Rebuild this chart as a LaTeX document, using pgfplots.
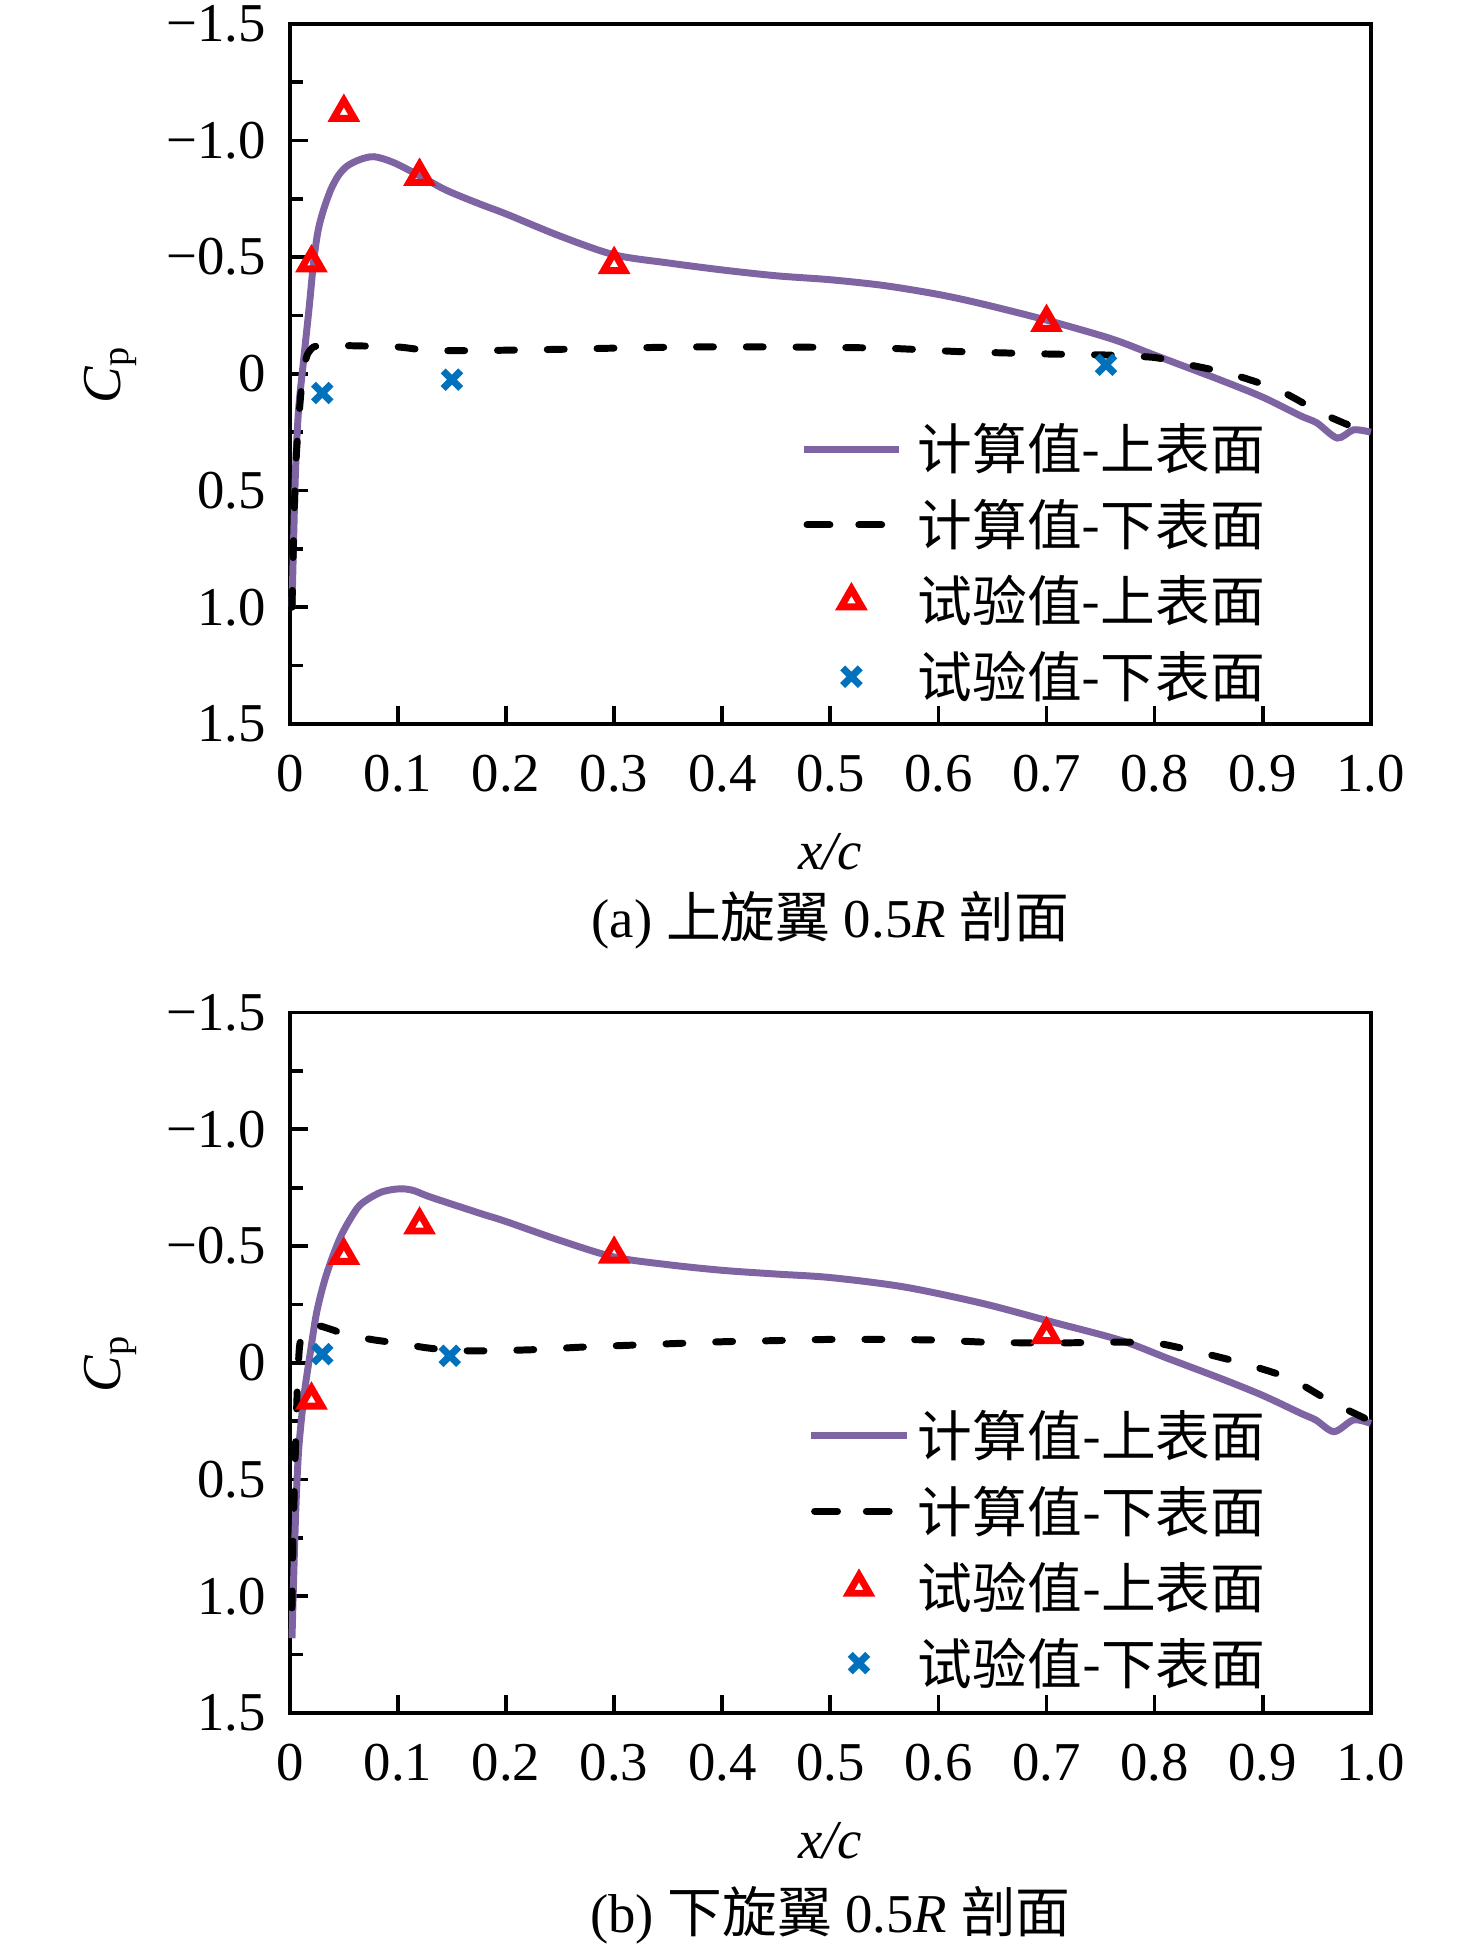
\documentclass[border=0pt]{standalone}
\usepackage{fontspec}
\setmainfont{Liberation Serif}
\newfontfamily\cjk{Noto Sans CJK SC}
\usepackage{pgfplots}
\pgfplotsset{compat=1.18}

\definecolor{cpurple}{HTML}{7F64A3}
\definecolor{cblue}{HTML}{0072BD}
\definecolor{cred}{HTML}{FF0000}

\pgfplotsset{
  cpbase/.style={
    scale only axis, width=217.25pt, height=140.75pt,
    xmin=0, xmax=1, ymin=-1.5, ymax=1.5, y dir=reverse,
    xtick={0,0.1,0.2,0.3,0.4,0.5,0.6,0.7,0.8,0.9,1.0},
    xticklabels={0,0.1,0.2,0.3,0.4,0.5,0.6,0.7,0.8,0.9,1.0},
    ytick={-1.5,-1,-0.5,0,0.5,1,1.5},
    yticklabels={−1.5,−1.0,−0.5,0,0.5,1.0,1.5},
    minor ytick={-1.25,-0.75,-0.25,0.25,0.75,1.25},
    tick align=inside, xtick pos=bottom, ytick pos=left,
    major tick length=3.6pt, minor tick length=2.6pt,
    axis line style={line width=0.75pt},
    every tick/.style={black, line width=0.75pt},
    tick label style={font=\fontsize{11}{13}\selectfont},
    yticklabel style={xshift=-1.3pt},
    xticklabel style={yshift=-2.8pt},
    xlabel={\textit{x/c}},
    xlabel style={at={(axis description cs:0.5,0)}, anchor=center, yshift=-25.6pt, font=\fontsize{11}{13}\selectfont},
    ylabel={\textit{C}\textsubscript{p}},
    ylabel style={at={(axis description cs:0,0.5)}, anchor=center, yshift=36pt, font=\fontsize{11}{13}\selectfont},
    clip=false,
    legend cell align=left,
    legend style={draw=none, fill=none, inner sep=0pt, outer sep=0pt,
      row sep=4.25pt, column sep=3pt,
      font=\cjk\fontsize{11}{13}\selectfont,
      nodes={inner sep=0pt, text height=9.7pt, text depth=1.3pt}},
  },
  purpleline/.style={color=cpurple, line width=1.4pt, smooth, tension=0.5, no marks,
    legend image code/.code={\draw[##1] (0pt,0pt) -- (19.25pt,0pt);}},
  dashline/.style={color=black, line width=1.4pt, line cap=round, dash pattern=on 3.4pt off 6.6pt, no marks, smooth, tension=0.4,
    legend image code/.code={\draw[##1, dash pattern=on 4.6pt off 5.8pt] (0.7pt,0pt) -- (18.55pt,0pt);}},
  trimarks/.style={only marks, mark=triangle, mark size=2.4pt, color=cred, line width=1.4pt,
    mark options={solid},
    legend image code/.code={\draw[##1] plot coordinates {(9.625pt,0pt)};}},
  xmarks/.style={only marks, mark=x, mark size=2.5pt, color=cblue, line width=1.4pt,
    mark options={solid},
    legend image code/.code={\draw[##1] plot coordinates {(9.625pt,0pt)};}},
}

\begin{document}
\begin{tikzpicture}
\path[use as bounding box] (-58.25pt,-246pt) rectangle (238.25pt,145.5pt);

% ---------------- (a) ----------------
\begin{axis}[cpbase, at={(0pt,0pt)}, anchor=south west,
  legend style={at={(axis description cs:0.472,0.0284)}, anchor=south west}]
\addplot[purpleline] coordinates {
(0.002,1.00)(0.005,0.45)(0.008,0.16)(0.013,-0.07)(0.018,-0.29)(0.022,-0.48)
(0.026,-0.61)(0.031,-0.70)(0.038,-0.79)(0.045,-0.85)(0.053,-0.89)(0.065,-0.918)(0.078,-0.93)(0.096,-0.905)
(0.121,-0.846)(0.145,-0.786)(0.176,-0.727)(0.2,-0.685)(0.25,-0.59)(0.3,-0.51)
(0.35,-0.475)(0.4,-0.445)(0.45,-0.42)(0.5,-0.403)(0.55,-0.378)(0.6,-0.34)
(0.64,-0.30)(0.7,-0.23)(0.76,-0.15)(0.8,-0.08)(0.86,0.025)(0.9,0.10)
(0.935,0.18)(0.95,0.21)(0.969,0.275)(0.984,0.24)(1.0,0.25)};
\addlegendentry{计算值-上表面}
\addplot[dashline] coordinates {
(0.002,1.00)(0.004,0.60)(0.006,0.35)(0.009,0.15)(0.012,0.0)(0.016,-0.08)
(0.022,-0.115)(0.034,-0.122)(0.06,-0.12)(0.1,-0.115)(0.13,-0.10)(0.18,-0.10)
(0.25,-0.105)(0.3,-0.11)(0.37,-0.115)(0.45,-0.115)(0.55,-0.11)(0.62,-0.095)
(0.7,-0.085)(0.76,-0.08)(0.8,-0.07)(0.82,-0.05)(0.87,0.0)(0.915,0.07)
(0.955,0.17)(0.99,0.24)(1.0,0.26)};
\addlegendentry{计算值-下表面}
\addplot[trimarks] coordinates {
(0.02,-0.475)(0.05,-1.12)(0.12,-0.846)(0.3,-0.468)(0.7,-0.22)};
\addlegendentry{试验值-上表面}
\addplot[xmarks] coordinates {
(0.03,0.082)(0.15,0.025)(0.755,-0.039)};
\addlegendentry{试验值-下表面}
\node[yshift=-39.5pt, font=\fontsize{11}{13}\selectfont] at (axis description cs:0.5,0)
  {(a) {\cjk 上旋翼} 0.5\textit{R} {\cjk 剖面}};
\end{axis}

% ---------------- (b) ----------------
\begin{axis}[cpbase, at={(0pt,-198.75pt)}, anchor=south west,
  legend style={at={(axis description cs:0.479,0.032)}, anchor=south west, column sep=1.5pt}]
\addplot[purpleline] coordinates {
(0.002,1.18)(0.005,0.70)(0.008,0.385)(0.013,0.146)(0.019,-0.045)(0.025,-0.22)
(0.034,-0.38)(0.047,-0.54)(0.062,-0.66)(0.072,-0.70)(0.084,-0.73)(0.095,-0.742)(0.105,-0.745)
(0.115,-0.737)(0.13,-0.71)
(0.176,-0.64)(0.2,-0.605)(0.25,-0.524)(0.3,-0.453)(0.35,-0.42)(0.4,-0.396)
(0.45,-0.38)(0.5,-0.365)(0.568,-0.325)(0.641,-0.254)(0.705,-0.175)(0.768,-0.097)
(0.812,-0.019)(0.861,0.067)(0.9,0.14)(0.935,0.216)(0.949,0.245)(0.966,0.295)
(0.984,0.245)(1.0,0.26)};
\addlegendentry{计算值-上表面}
\addplot[dashline] coordinates {
(0.002,1.05)(0.003,0.75)(0.005,0.40)(0.007,0.10)(0.009,-0.07)(0.013,-0.15)
(0.02,-0.165)(0.03,-0.155)(0.04,-0.14)(0.05,-0.125)(0.075,-0.10)(0.1,-0.084)
(0.125,-0.065)(0.15,-0.053)(0.18,-0.051)(0.225,-0.056)(0.27,-0.067)(0.32,-0.076)
(0.36,-0.083)(0.4,-0.09)(0.45,-0.095)(0.5,-0.10)(0.55,-0.10)(0.6,-0.097)
(0.65,-0.087)(0.71,-0.085)(0.76,-0.088)(0.8,-0.085)(0.833,-0.054)(0.88,0.0)
(0.925,0.067)(0.963,0.167)(1.0,0.25)};
\addlegendentry{计算值-下表面}
\addplot[trimarks] coordinates {
(0.02,0.16)(0.05,-0.46)(0.12,-0.59)(0.3,-0.465)(0.7,-0.12)};
\addlegendentry{试验值-上表面}
\addplot[xmarks] coordinates {
(0.03,-0.037)(0.148,-0.03)};
\addlegendentry{试验值-下表面}
\node[yshift=-40.75pt, font=\fontsize{11}{13}\selectfont] at (axis description cs:0.5,0)
  {(b) {\cjk 下旋翼} 0.5\textit{R} {\cjk 剖面}};
\end{axis}
\end{tikzpicture}
\end{document}
